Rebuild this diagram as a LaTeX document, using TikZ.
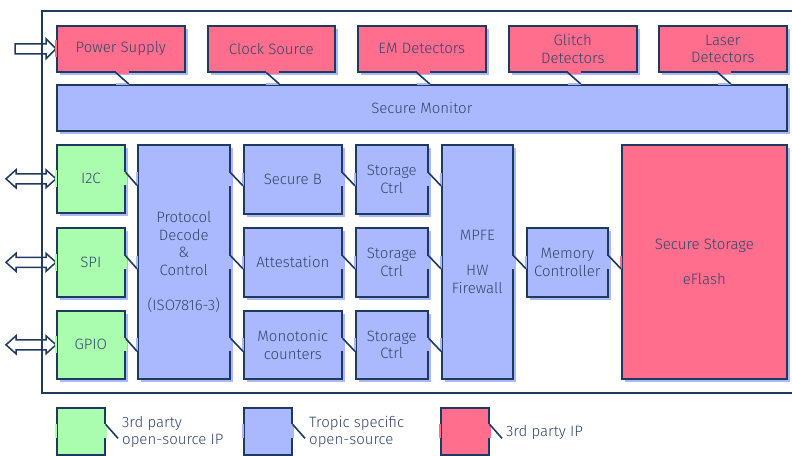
\documentclass[tikz,border=0pt]{standalone}
\usepackage{fontspec}
\setmainfont{Fira Sans}[UprightFont={* Light}]
\usetikzlibrary{calc,shadows,backgrounds}

\definecolor{navy}{HTML}{1E3A5F}
\definecolor{txtblue}{HTML}{34466A}
\definecolor{ippink}{HTML}{FF6E8C}
\definecolor{ipblue}{HTML}{AAB9FE}
\definecolor{ipgreen}{HTML}{AAFDAE}

\tikzset{
  frame/.style={draw=navy, line width=2.6pt},
  block/.style={draw=navy, line width=1.6pt, inner sep=0pt, align=center,
    text=txtblue, anchor=north west,
    drop shadow={shadow xshift=3pt, shadow yshift=-3pt, fill=ipblue,
      opacity=1, draw=none}},
  keybox/.style={draw=navy, line width=1.6pt, inner sep=0pt, anchor=north west,
    minimum width=48pt, minimum height=47pt},
  keytext/.style={align=left, text=txtblue, anchor=west, inner xsep=4pt},
  bordergap/.style={draw=#1, line width=2.6pt},
  wire/.style={draw=navy, line width=1.6pt},
  hollow/.style={draw=navy, fill=white, line width=1.5pt, line join=miter},
}

\begin{document}
\begin{tikzpicture}[x=1pt, y=-1pt, font=\fontsize{15}{17.5}\selectfont]

  \useasboundingbox (0,0) rectangle (792,455);

  \draw [frame] (42,11) rectangle (810,393);

  \node [block, fill=ippink, minimum width=128pt, minimum height=46pt]
    (ps) at (56,25) {Power Supply};
  \node [block, fill=ippink, minimum width=127pt, minimum height=46pt]
    (cs) at (207,25) {Clock Source};
  \node [block, fill=ippink, minimum width=128pt, minimum height=46pt]
    (em) at (357,25) {EM Detectors};
  \node [block, fill=ippink, minimum width=128pt, minimum height=46pt]
    (gd) at (508,25) {Glitch\\Detectors};
  \node [block, fill=ippink, minimum width=128pt, minimum height=46pt]
    (ld) at (658,25) {Laser\\Detectors};

  \node [block, fill=ipblue, minimum width=730pt, minimum height=46pt]
    (sm) at (56,84) {Secure Monitor};

  \node [block, fill=ipgreen, minimum width=68pt, minimum height=68pt]
    (i2c) at (56,144) {I2C};
  \node [block, fill=ipgreen, minimum width=68pt, minimum height=69pt]
    (spi) at (56,227) {SPI};
  \node [block, fill=ipgreen, minimum width=68pt, minimum height=68pt]
    (gpio) at (56,310) {GPIO};

  \node [block, fill=ipblue, minimum width=92pt, minimum height=234pt]
    (pdc) at (137,144) {Protocol\\Decode\\\&\\Control\\[17.5pt](ISO7816-3)};

  \node [block, fill=ipblue, minimum width=98pt, minimum height=69pt]
    (sb) at (243,144) {Secure B};
  \node [block, fill=ipblue, minimum width=98pt, minimum height=69pt]
    (att) at (243,227) {Attestation};
  \node [block, fill=ipblue, minimum width=98pt, minimum height=68pt]
    (mono) at (243,310) {Monotonic\\counters};

  \node [block, fill=ipblue, minimum width=72pt, minimum height=69pt]
    (sc1) at (355,144) {Storage\\Ctrl};
  \node [block, fill=ipblue, minimum width=72pt, minimum height=69pt]
    (sc2) at (355,227) {Storage\\Ctrl};
  \node [block, fill=ipblue, minimum width=72pt, minimum height=68pt]
    (sc3) at (355,310) {Storage\\Ctrl};

  \node [block, fill=ipblue, minimum width=71pt, minimum height=234pt]
    (mpfe) at (441,144) {MPFE\\[17.5pt]HW\\Firewall};
  \node [block, fill=ipblue, minimum width=81pt, minimum height=69pt]
    (mc) at (526,227) {Memory\\Controller};
  \node [block, fill=ippink, minimum width=165pt, minimum height=234pt]
    (ss) at (621,144) {Secure Storage\\[17.5pt]eFlash};

  \node [keybox, fill=ipgreen] (k1) at (56,407) {};
  \node [keytext] (t1) at (118,432) {3rd party\\open-source IP};
  \node [keybox, fill=ipblue] (k2) at (243,407) {};
  \node [keytext] (t2) at (305,432) {Tropic specific\\open-source};
  \node [keybox, fill=ippink] (k3) at (440,407) {};
  \node [keytext] (t3) at (502,432) {3rd party IP};

  \foreach \a in {ps,cs,em,gd,ld}
    \path let \p1=(\a.south), \p2=(sm.north) in
      (\x1-5pt,\y1) edge [bordergap=ippink] (\x1+8pt,\y1)
      (\x1-5pt,\y2) edge [bordergap=ipblue] (\x1+8pt,\y2)
      (\x1-5pt,\y1) edge [wire] (\x1+8pt,\y2);

  \foreach \a/\ca/\b/\cb/\r in {i2c/ipgreen/pdc/ipblue/i2c,
      spi/ipgreen/pdc/ipblue/spi, gpio/ipgreen/pdc/ipblue/gpio,
      pdc/ipblue/sb/ipblue/sb, pdc/ipblue/att/ipblue/att,
      pdc/ipblue/mono/ipblue/mono, sb/ipblue/sc1/ipblue/sb,
      att/ipblue/sc2/ipblue/att, mono/ipblue/sc3/ipblue/mono,
      sc1/ipblue/mpfe/ipblue/sc1, sc2/ipblue/mpfe/ipblue/sc2,
      sc3/ipblue/mpfe/ipblue/sc3, mpfe/ipblue/mc/ipblue/mc,
      mc/ipblue/ss/ippink/mc}
    \path let \p1=(\a.east), \p2=(\b.west), \p3=(\r.center) in
      (\x1,\y3+6.5pt) edge [bordergap=\ca] (\x1,\y3-6.5pt)
      (\x2,\y3+6.5pt) edge [bordergap=\cb] (\x2,\y3-6.5pt)
      (\x1,\y3+6.5pt) edge [wire] (\x2,\y3-6.5pt);

  \foreach \k/\c/\t in {k1/ipgreen/t1, k2/ipblue/t2, k3/ippink/t3}
    \path let \p1=(\k.east), \p2=(\t.west), \p3=(\k.west) in
      (\x1,\y1+7pt) edge [bordergap=\c] (\x1,\y1-7pt)
      (\x3,\y1+7pt) edge [bordergap=\c] (\x3,\y1-7pt)
      (\x1,\y1+7pt) edge [wire] (\x2,\y1-7pt);

  \foreach \a/\c in {ps/ippink, i2c/ipgreen, spi/ipgreen, gpio/ipgreen}
    \path let \p1=(\a.west) in
      (\x1,\y1+8.5pt) edge [bordergap=\c] (\x1,\y1-8.5pt);

  \begin{scope}[on background layer]
    \draw [hollow] let \p1=(ps.west) in
      (\x1-41pt,\y1+5pt) -- ++(31pt,0) -- ++(0,5pt) -- ++(10pt,-10pt)
      -- ++(-10pt,-10pt) -- ++(0,5pt) -- ++(-31pt,0) -- cycle;
    \foreach \a in {i2c,spi,gpio}
      \draw [hollow] let \p1=(\a.west) in
        (\x1-50pt,\y1) -- ++(10pt,9pt) -- ++(0,-4pt) -- ++(30pt,0)
        -- ++(0,4pt) -- ++(10pt,-9pt) -- ++(-10pt,-9pt) -- ++(0,4pt)
        -- ++(-30pt,0) -- ++(0,-4pt) -- cycle;
  \end{scope}

\end{tikzpicture}
\end{document}
